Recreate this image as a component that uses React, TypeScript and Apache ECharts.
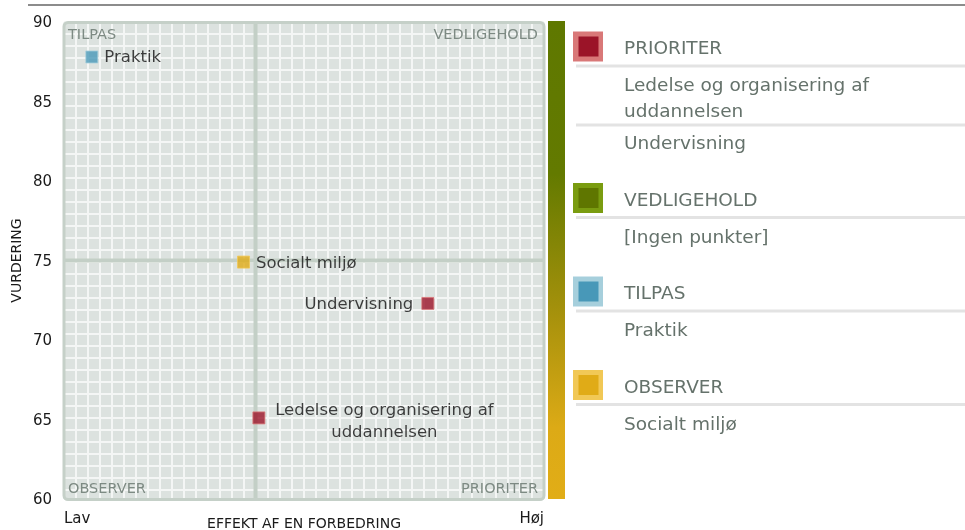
import React, { useEffect, useRef } from "react";
import * as echarts from "echarts";

// ---------- data ----------
const pointNames = [
  "Ledelse og organisering af uddannelsen",
  "Praktik",
  "Socialt miljø",
  "Undervisning",
];
const effectValues = [40.6, 5.8, 37.4, 75.8]; // EFFEKT AF EN FORBEDRING (Lav = 0, Høj = 100)
const ratingValues = [65.1, 87.8, 74.9, 72.3]; // VURDERING
const dividerEffect = 39.9;
const dividerRating = 75.0;
const xEndLabels = ["Lav", "Høj"];
const quadrantNames = ["PRIORITER", "VEDLIGEHOLD", "TILPAS", "OBSERVER"];
const emptyQuadrantText = "[Ingen punkter]";
const xAxisTitle = "EFFEKT AF EN FORBEDRING";
const yAxisTitle = "VURDERING";

// ---------- styles ----------
const FONT = "DejaVu Sans";
const quadrantColors: Record<string, { inner: string; outer: string }> = {
  PRIORITER: { inner: "#9b1428", outer: "#d97878" },
  VEDLIGEHOLD: { inner: "#5f7600", outer: "#7a9c10" },
  TILPAS: { inner: "#4898b8", outer: "#a6cfdc" },
  OBSERVER: { inner: "#e0ab17", outer: "#f1c856" },
};
const labelPlacement: Record<string, any> = {
  "Ledelse og organisering af uddannelsen": { position: "right", align: "center", offset: [113, 2.5] },
  Praktik: { position: "right" },
  "Socialt miljø": { position: "right" },
  Undervisning: { position: "left", distance: 8 },
};

const GRID = { left: 64, top: 22, width: 480, height: 477 };

function quadrantOf(i: number): string {
  const right = effectValues[i] > dividerEffect;
  const up = ratingValues[i] > dividerRating;
  if (right && !up) return "PRIORITER";
  if (right && up) return "VEDLIGEHOLD";
  if (!right && up) return "TILPAS";
  return "OBSERVER";
}

function wrapText(text: string, maxW: number, font: string): string[] {
  const ctx = document.createElement("canvas").getContext("2d")!;
  ctx.font = font;
  const words = text.split(" ");
  const lines: string[] = [];
  let cur = "";
  for (const w of words) {
    const t = cur ? cur + " " + w : w;
    if (cur && ctx.measureText(t).width > maxW) {
      lines.push(cur);
      cur = w;
    } else cur = t;
  }
  if (cur) lines.push(cur);
  return lines;
}

function buildLegend(): any[] {
  const font = `18.5px "${FONT}"`;
  const fill = "#65726b";
  const children: any[] = [];
  let y = 31.5;
  quadrantNames.forEach((q) => {
    const c = quadrantColors[q];
    children.push({ type: "rect", shape: { x: 573, y, width: 30, height: 30 }, style: { fill: c.outer } });
    children.push({ type: "rect", shape: { x: 578.5, y: y + 5, width: 20, height: 20 }, style: { fill: c.inner } });
    children.push({ type: "text", style: { text: q, x: 624, y: y + 16, font, fill, verticalAlign: "middle" } });
    children.push({ type: "rect", shape: { x: 576, y: y + 33, width: 389, height: 3 }, style: { fill: "#e3e3e3" } });
    const items = pointNames.filter((_, i) => quadrantOf(i) === q);
    const list = items.length ? items : [emptyQuadrantText];
    let ly = y + 53;
    let last = ly;
    list.forEach((it, k) => {
      if (k > 0) {
        const sep = last + 14.5;
        children.push({ type: "rect", shape: { x: 576, y: sep - 1.5, width: 389, height: 3 }, style: { fill: "#e3e3e3" } });
        ly = sep + 17.5;
      }
      const lines = wrapText(it, 320, font);
      lines.forEach((ln, j) => {
        children.push({ type: "text", style: { text: ln, x: 624, y: ly, font, fill, verticalAlign: "middle" } });
        last = ly;
        if (j < lines.length - 1) ly += 26;
      });
    });
    y = last + 40.5;
  });
  return children;
}

export default function App() {
  const ref = useRef<HTMLDivElement>(null);
  useEffect(() => {
    if (!ref.current) return;
    const chart = echarts.init(ref.current, undefined, { renderer: "svg" });
    const labelFont = `16.5px "${FONT}"`;
    const scatterData = pointNames.map((n, i) => {
      const c = quadrantColors[quadrantOf(i)];
      const lp = labelPlacement[n] || { position: "right" };
      return {
        name: n,
        value: [effectValues[i], ratingValues[i]],
        itemStyle: { color: c.inner, borderColor: c.outer, borderWidth: 1 },
        label: {
          show: true,
          formatter: wrapText(n, 260, labelFont).join("\n"),
          distance: 6,
          ...lp,
        },
      };
    });
    const quadLabel = { font: `14.5px "${FONT}"`, fill: "#7d8a83" };
    const option: any = {
      animation: false,
      textStyle: { fontFamily: FONT },
      grid: {
        ...GRID,
        show: true,
        backgroundColor: "#dce2df",
        borderWidth: 0,
        containLabel: false,
        outerBoundsMode: "none",
      },
      xAxis: [
        {
          type: "value",
          min: 0,
          max: 100,
          interval: 100,
          axisLine: { show: false },
          axisTick: { show: false },
          splitLine: { show: false },
          axisLabel: {
            formatter: (v: number) => (v === 0 ? xEndLabels[0] : v === 100 ? xEndLabels[1] : ""),
            alignMinLabel: "left",
            alignMaxLabel: "right",
            color: "#1a1a1a",
            fontSize: 15,
            margin: 11,
          },
          name: xAxisTitle,
          nameLocation: "middle",
          nameGap: 17,
          nameMoveOverlap: false,
          nameTextStyle: { color: "#1a1a1a", fontSize: 14 },
        },
        {
          type: "value",
          min: 0,
          max: 40,
          interval: 1,
          position: "top",
          axisLine: { show: false },
          axisTick: { show: false },
          axisLabel: { show: false },
          splitLine: { show: true, lineStyle: { color: "#f4f6f5", width: 2 } },
        },
      ],
      yAxis: [
        {
          type: "value",
          min: 60,
          max: 90,
          interval: 5,
          axisLine: { show: false },
          axisTick: { show: false },
          splitLine: { show: false },
          axisLabel: { color: "#1a1a1a", fontSize: 15, margin: 12 },
          name: yAxisTitle,
          nameLocation: "middle",
          nameGap: 41,
          nameRotate: 90,
          nameMoveOverlap: false,
          nameTextStyle: { color: "#1a1a1a", fontSize: 14 },
        },
        {
          type: "value",
          min: 0,
          max: 477 / 12,
          interval: 1,
          inverse: true,
          position: "right",
          axisLine: { show: false },
          axisTick: { show: false },
          axisLabel: { show: false },
          splitLine: { show: true, lineStyle: { color: "#f4f6f5", width: 2 } },
        },
      ],
      series: [
        {
          type: "line",
          z: 1,
          silent: true,
          symbol: "none",
          data: [
            [dividerEffect, 60],
            [dividerEffect, 90],
          ],
          lineStyle: { color: "#c3cfc6", width: 4 },
        },
        {
          type: "line",
          z: 1,
          silent: true,
          symbol: "none",
          data: [
            [0, dividerRating],
            [100, dividerRating],
          ],
          lineStyle: { color: "#c3cfc6", width: 4 },
        },
        {
          type: "scatter",
          z: 3,
          symbol: "rect",
          symbolSize: 12,
          label: { color: "#111", fontSize: 16.5, fontFamily: FONT, lineHeight: 22 },
          data: scatterData,
        },
      ],
      graphic: [
        { type: "line", shape: { x1: 28, y1: 5, x2: 965, y2: 5 }, style: { stroke: "#8c8c8c", lineWidth: 2 } },
        {
          type: "rect",
          z: 100,
          shape: { x: GRID.left, y: GRID.top + 0.5, width: GRID.width, height: GRID.height, r: 4 },
          style: { fill: "none", stroke: "#c5d0c8", lineWidth: 3 },
        },
        {
          type: "rect",
          shape: { x: 548, y: 21, width: 17, height: 478 },
          style: {
            fill: new echarts.graphic.LinearGradient(0, 0, 0, 1, [
              { offset: 0, color: "#5f7800" },
              { offset: 0.32, color: "#637a00" },
              { offset: 0.62, color: "#a8920c" },
              { offset: 0.85, color: "#dcaa16" },
              { offset: 1, color: "#e1ad17" },
            ]),
          },
        },
        { type: "text", z: 100, style: { text: quadrantNames[2], x: 68, y: 33.5, verticalAlign: "middle", ...quadLabel } },
        { type: "text", z: 100, style: { text: quadrantNames[1], x: 538, y: 33.5, align: "right", verticalAlign: "middle", ...quadLabel } },
        { type: "text", z: 100, style: { text: quadrantNames[3], x: 68, y: 488, verticalAlign: "middle", ...quadLabel } },
        { type: "text", z: 100, style: { text: quadrantNames[0], x: 538, y: 488, align: "right", verticalAlign: "middle", ...quadLabel } },
        { type: "group", children: buildLegend() },
      ],
    };
    chart.setOption(option);
    return () => chart.dispose();
  }, []);
  return <div ref={ref} style={{ position: "fixed", left: 0, top: 0, width: 965, height: 530 }} />;
}
